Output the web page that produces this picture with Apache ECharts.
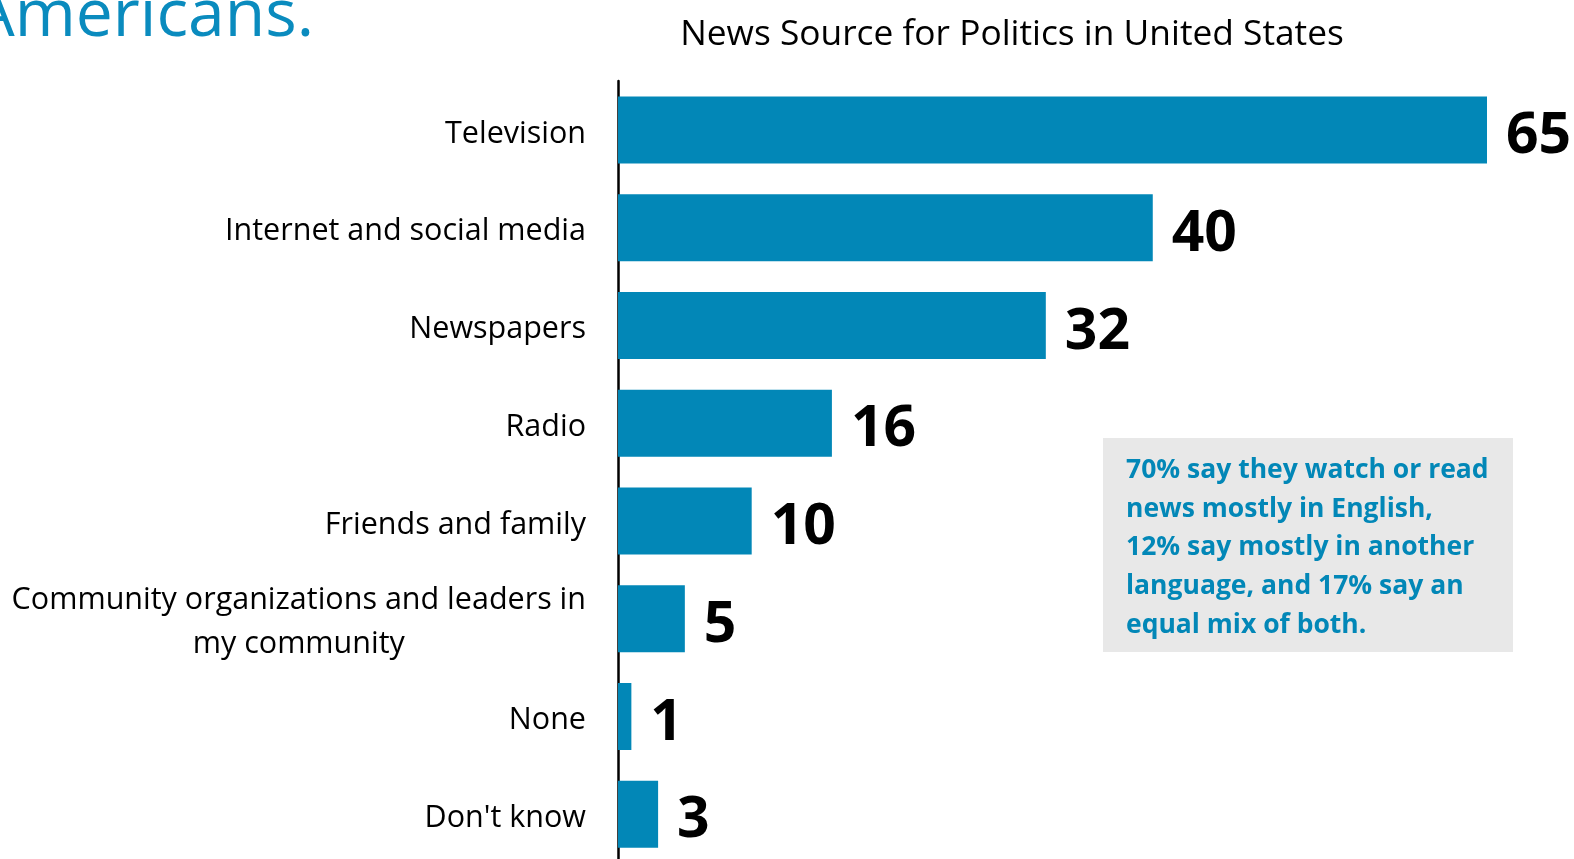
<!DOCTYPE html>
<html>
<head>
<meta charset="utf-8">
<script src="https://cdn.jsdelivr.net/npm/echarts@6/dist/echarts.min.js"></script>
<style>
html,body{margin:0;padding:0;background:#fff;}
#chart{width:1574px;height:859px;}
</style>
</head>
<body>
<div id="chart"></div>
<script>
const categories = ['Television', 'Internet and social media', 'Newspapers', 'Radio', 'Friends and family', 'Community organizations and leaders in\nmy community', 'None', "Don't know"];
const values = [65, 40, 32, 16, 10, 5, 1, 3];
const chartTitle = 'News Source for Politics in United States';
const heading = 'Americans.';
const noteLines = ['70% say they watch or read', 'news mostly in English,', '12% say mostly in another', 'language, and 17% say an', 'equal mix of both.'];

const BLUE = '#0287B7';
const FONT = '"Open Sans", "Noto Sans", sans-serif';

const chart = echarts.init(document.getElementById('chart'));
chart.setOption({
  backgroundColor: '#ffffff',
  animation: false,
  title: {
    text: chartTitle,
    left: 1007,
    top: 12,
    textAlign: 'center',
    textStyle: {fontFamily: FONT, fontSize: 35.3, fontWeight: 'normal', color: '#000'}
  },
  grid: {left: 618, top: 81, width: 869, height: 782, outerBoundsMode: 'none', containLabel: false},
  xAxis: {
    type: 'value', min: 0, max: 65, show: false
  },
  yAxis: {
    type: 'category',
    data: categories,
    inverse: true,
    axisTick: {show: false},
    axisLine: {show: true, lineStyle: {color: '#000', width: 2.5}},
    axisLabel: {
      margin: 32,
      fontFamily: FONT,
      fontSize: 30.5,
      color: '#000',
      lineHeight: 44,
      formatter: function (v) {
        return v.split('\n').map(function (l) { return '{c|' + l + '}'; }).join('\n');
      },
      rich: {c: {align: 'center', fontFamily: FONT, fontSize: 30.5, color: '#000', lineHeight: 44, padding: [8, 0, 0, 0]}}
    }
  },
  series: [{
    type: 'bar',
    data: values,
    barWidth: 67,
    itemStyle: {color: BLUE},
    label: {
      show: true,
      position: 'right',
      distance: 19,
      offset: [0, 7],
      fontFamily: FONT,
      fontSize: 57,
      fontWeight: 'bold',
      color: '#000'
    }
  }],
  graphic: [
    {
      type: 'text',
      right: 1574 - 314,
      top: -16,
      style: {text: heading, fontFamily: FONT, fontSize: 66, fill: '#0A8BBE'}
    },
    {
      type: 'rect',
      shape: {x: 1103, y: 438, width: 410, height: 214},
      style: {fill: '#E8E8E8'},
      z: 0
    },
    {
      type: 'text',
      x: 1126,
      y: 451,
      style: {
        text: noteLines.join('\n'),
        fontFamily: FONT,
        fontSize: 26.5,
        fontWeight: 'bold',
        fill: BLUE,
        lineHeight: 38.7
      },
      z: 1
    }
  ]
});
</script>
</body>
</html>
